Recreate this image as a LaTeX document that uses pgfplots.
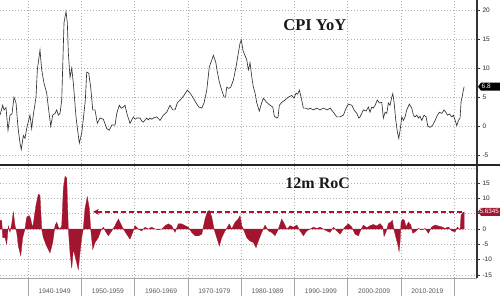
\documentclass[border=0pt]{standalone}
\usepackage{fontspec}
\setmainfont{Liberation Serif}
\setsansfont{Liberation Sans}
\usepackage{pgfplots}
\pgfplotsset{compat=1.18}
\usetikzlibrary{arrows.meta}
\definecolor{crim}{HTML}{A3152F}
\definecolor{gridc}{HTML}{B0B0B0}
\pgfplotsset{
  panel/.style={
    scale only axis, width=477pt, clip=false,
    xmin=1934.74, xmax=2024.3,
    axis line style={draw=none},
    xtick={1940,1950,...,2020}, xticklabels={},
    xtick style={draw=none},
    ytick pos=right, yticklabel pos=right,
    tick align=outside, major tick length=3pt,
    ytick style={black!80, line width=0.5pt},
    yticklabel style={font=\sffamily\fontsize{6.5}{7}\selectfont, text=black!85, xshift=-1pt},
    /pgf/number format/assume math mode=true,
    grid=major,
    major grid style={gridc, line width=0.6pt, dash pattern=on 0.8pt off 2.2pt},
  }
}
\begin{document}
\begin{tikzpicture}
\useasboundingbox (0pt,0pt) rectangle (500pt,-296pt);
% ---------------- top panel ----------------
\begin{axis}[panel, at={(0pt,0pt)}, anchor=north west, height=164pt,
  ymin=-6.5, ymax=21.7, ytick={-5,0,...,20}]
\addplot[black!80, line width=0.65pt] coordinates {
(1934.74,1.9)(1935.25,3.6)(1935.49,2.8)(1935.87,3.2)(1936.24,-0.7)(1936.62,1.9)(1936.99,2.1)(1937.37,5.0)(1937.75,4.0)(1938.12,-0.2)(1938.50,-2.9)(1938.74,-4.0)(1939.12,-1.6)(1939.43,-2.1)(1939.81,-0.1)(1940.37,1.9)(1940.69,-0.4)(1940.94,1.6)(1941.50,5.0)(1941.75,9.7)(1942.25,13.1)(1942.57,9.7)(1943.00,7.4)(1943.51,5.7)(1943.81,3.3)(1944.26,0.0)(1944.64,1.9)(1945.07,2.2)(1945.39,2.8)(1945.69,1.9)(1946.01,2.2)(1946.33,4.5)(1946.76,17.8)(1947.13,19.7)(1947.38,17.8)(1947.57,12.6)(1947.89,8.4)(1948.21,10.0)(1948.51,7.4)(1949.01,1.6)(1949.39,-1.2)(1949.63,-2.9)(1950.08,-1.2)(1950.38,1.2)(1950.76,4.5)(1951.02,9.3)(1951.40,9.1)(1951.77,6.7)(1952.15,2.8)(1952.58,2.8)(1953.01,0.5)(1953.52,1.4)(1954.14,1.2)(1954.78,-0.4)(1955.27,-0.7)(1955.72,0.2)(1956.34,0.2)(1956.66,2.2)(1957.14,3.6)(1957.50,3.1)(1957.90,3.3)(1958.21,3.6)(1958.65,1.9)(1959.15,0.5)(1959.77,1.6)(1960.10,1.2)(1960.41,1.4)(1961.03,1.4)(1961.35,0.9)(1961.65,0.7)(1962.29,1.4)(1962.60,1.1)(1962.91,1.4)(1963.23,1.2)(1963.53,1.4)(1964.17,1.6)(1964.79,1.0)(1965.41,1.9)(1966.04,2.4)(1966.66,3.6)(1967.17,2.8)(1967.60,2.8)(1968.04,4.0)(1968.67,4.6)(1969.29,5.3)(1969.91,6.2)(1970.42,5.7)(1970.93,5.0)(1971.55,4.0)(1972.05,3.3)(1972.62,3.1)(1973.05,4.0)(1973.56,6.2)(1974.04,10.2)(1974.36,11.0)(1974.80,12.2)(1975.25,11.0)(1975.55,9.3)(1975.92,7.6)(1976.37,6.2)(1976.81,5.0)(1977.09,5.0)(1977.31,6.7)(1977.69,6.5)(1978.06,6.7)(1978.55,7.9)(1979.06,10.2)(1979.49,12.6)(1979.81,14.3)(1980.05,14.8)(1980.37,13.0)(1981.07,11.4)(1981.37,9.7)(1981.69,10.9)(1982.01,8.5)(1982.31,6.7)(1982.63,5.7)(1982.95,4.0)(1983.43,2.6)(1983.89,4.1)(1984.19,4.8)(1984.82,4.1)(1985.44,3.6)(1985.95,3.3)(1986.25,1.7)(1986.70,1.4)(1986.95,1.6)(1987.19,3.6)(1987.64,4.1)(1988.26,4.5)(1988.88,5.0)(1989.52,5.3)(1989.95,4.8)(1990.33,5.7)(1990.61,5.5)(1990.95,6.2)(1991.27,5.0)(1991.70,3.1)(1992.20,3.1)(1992.60,2.9)(1992.96,3.1)(1993.58,2.8)(1994.21,3.1)(1994.83,2.8)(1995.45,3.1)(1996.20,2.8)(1996.71,3.1)(1997.33,2.4)(1997.97,1.6)(1998.59,1.6)(1999.21,1.9)(1999.72,3.1)(2000.15,3.8)(2000.79,3.6)(2001.22,2.8)(2001.73,2.2)(2002.10,1.4)(2002.34,1.6)(2002.96,2.8)(2003.47,2.6)(2003.90,3.3)(2004.22,2.4)(2004.54,3.3)(2004.84,3.1)(2005.16,3.6)(2005.59,4.5)(2005.97,4.0)(2006.42,4.1)(2006.72,1.4)(2007.04,2.4)(2007.36,2.2)(2007.66,4.0)(2007.98,3.6)(2008.30,5.0)(2008.49,5.6)(2008.73,4.1)(2009.05,1.0)(2009.35,-1.0)(2009.61,-2.1)(2009.86,-0.7)(2010.18,1.6)(2010.48,1.0)(2010.80,1.6)(2011.11,2.8)(2011.60,3.8)(2012.05,3.1)(2012.35,1.9)(2012.67,1.6)(2012.99,1.9)(2013.29,1.4)(2013.61,1.7)(2013.93,1.0)(2014.36,1.9)(2014.74,1.6)(2015.06,0.0)(2015.49,-0.2)(2016.00,0.2)(2016.43,1.0)(2016.86,1.9)(2017.24,2.4)(2017.69,2.2)(2018.12,2.8)(2018.44,2.4)(2018.74,1.9)(2019.15,2.1)(2019.56,1.6)(2019.87,1.9)(2020.19,1.0)(2020.50,0.1)(2020.81,1.0)(2021.12,1.4)(2021.31,4.2)(2021.56,5.3)(2021.74,6.2)(2021.88,6.8)
};
\node[font=\bfseries\fontsize{16.5}{18}\selectfont, text=black!90] at (rel axis cs:0.66,0.848) {CPI YoY};
\fill[black] ([xshift=1pt]axis cs:2024.3,6.8) -- ([xshift=4pt,yshift=4pt]axis cs:2024.3,6.8) -- ([xshift=23pt,yshift=4pt]axis cs:2024.3,6.8) -- ([xshift=23pt,yshift=-4pt]axis cs:2024.3,6.8) -- ([xshift=4pt,yshift=-4pt]axis cs:2024.3,6.8) -- cycle;
\node[anchor=west, text=white, font=\sffamily\fontsize{6.5}{7}\selectfont, inner sep=0pt] at ([xshift=4.5pt]axis cs:2024.3,6.8) {6.8};
\end{axis}
% ---------------- bottom panel ----------------
\begin{axis}[panel, at={(0pt,-166pt)}, anchor=north west, height=112pt,
  ymin=-16, ymax=20.6, ytick={-15,-10,-5,0,5,10,15},
  yticklabels={-15,-10,-5,0,{},10,15}]
\draw[gridc, line width=0.6pt, dash pattern=on 0.8pt off 2.2pt] (axis cs:1934.74,20) -- (axis cs:2024.3,20);
\addplot[fill=crim, draw=crim, line width=0.3pt] coordinates {
(1934.74,0)(1934.74,2.8)(1935.06,2.8)(1935.25,-2.8)(1935.68,-2.8)(1936.00,-5.0)(1936.30,1.0)(1936.62,-1.1)(1936.94,1.7)(1937.24,5.6)(1937.56,1.1)(1937.88,-1.1)(1938.18,-5.6)(1938.63,-8.7)(1939.00,-2.8)(1939.43,0)(1939.75,3.9)(1940.24,4.4)(1940.51,3.3)(1940.81,0.6)(1940.99,1.7)(1941.50,7.8)(1941.93,11.3)(1942.25,11.1)(1942.57,0)(1942.87,-2.8)(1943.51,-5.6)(1944.13,-7.8)(1944.64,-4.4)(1945.07,1.1)(1945.39,2.2)(1945.69,0.6)(1946.01,0)(1946.33,1.1)(1946.63,13.3)(1946.95,17.2)(1947.27,16.7)(1947.57,0)(1947.89,-7.8)(1948.21,-12.8)(1948.51,-6.7)(1949.01,-10)(1949.44,-13.3)(1949.76,-7.8)(1950.08,-2.8)(1950.38,0)(1950.70,6.7)(1951.13,10.6)(1951.51,6.7)(1951.77,0)(1952.15,-6.7)(1952.58,-4.4)(1953.20,-2.8)(1953.65,-0.6)(1954.14,0.6)(1954.65,-1.1)(1955.08,-2.2)(1955.72,-0.6)(1956.34,1.1)(1956.96,3.3)(1957.27,2.2)(1957.90,0)(1958.53,-1.7)(1959.15,-3.3)(1959.66,-1.1)(1960.09,1.1)(1960.71,0)(1961.35,-0.6)(1961.97,0.6)(1962.59,0)(1963.23,0.6)(1963.85,0)(1964.47,-0.2)(1965.11,0)(1965.73,1.1)(1966.35,1.7)(1966.98,1.1)(1967.60,-1.1)(1968.22,1.7)(1968.86,1.7)(1969.48,1.1)(1970.10,0.6)(1970.74,-1.1)(1971.36,-2.2)(1971.98,-2.2)(1972.62,-1.7)(1973.24,3.3)(1973.67,5.6)(1974.04,6.1)(1974.50,3.9)(1974.93,0)(1975.43,-2.8)(1975.92,-5.6)(1976.37,-2.8)(1976.99,-0.6)(1977.43,0.6)(1977.80,1.7)(1978.25,0)(1978.87,2.2)(1979.49,3.3)(1979.81,4.4)(1980.13,1.1)(1980.43,0)(1981.07,-2.8)(1981.69,-3.9)(1982.31,-4.4)(1982.81,-6.1)(1983.25,-3.9)(1983.89,-1.1)(1984.50,1.3)(1985.12,-0.6)(1985.76,-1.1)(1986.38,-2.2)(1987.00,0)(1987.64,3.3)(1988.13,1.7)(1988.58,0)(1989.20,1.1)(1989.82,0.6)(1990.46,1.3)(1991.08,-0.6)(1991.70,-2.2)(1992.34,-0.6)(1992.96,0)(1993.58,0.6)(1994.21,0.2)(1994.83,0.6)(1995.45,0)(1996.09,-0.6)(1996.71,-1.1)(1997.33,0.6)(1997.97,-0.6)(1998.59,-1.7)(1999.21,0)(1999.72,1.1)(2000.15,1.7)(2000.79,0.6)(2001.41,-1.7)(2002.03,-2.2)(2002.34,-0.9)(2002.96,1.3)(2003.60,0.4)(2004.22,1.1)(2004.84,1.5)(2005.48,1.0)(2006.10,1.8)(2006.61,0.7)(2006.85,-2.4)(2007.23,-0.9)(2007.66,1.8)(2008.11,2.3)(2008.41,2.9)(2008.73,-0.3)(2009.11,-3.0)(2009.42,-5.1)(2009.67,-7.4)(2009.86,-4.0)(2010.04,2.3)(2010.36,3.2)(2010.66,2.9)(2010.98,0.7)(2011.42,2.3)(2011.87,1.3)(2012.24,-1.4)(2012.67,-0.9)(2013.29,0.2)(2013.93,-0.3)(2014.55,0.2)(2015.17,-1.4)(2015.81,0.7)(2016.43,1.3)(2017.05,1.0)(2017.69,0.7)(2018.31,0.2)(2018.93,0.7)(2019.56,-0.6)(2020.19,-0.9)(2020.62,0.7)(2021.12,-0.3)(2021.30,4.5)(2021.60,5.3)(2021.88,5.63)(2021.88,0)
} -- cycle;
\addplot[crim, line width=1.5pt, dash pattern=on 5pt off 3pt, {Stealth[length=6pt,width=6pt]}-] coordinates {(1952.2,5.6345)(2021.88,5.6345)};
\node[font=\bfseries\fontsize{16}{18}\selectfont, text=black!90] at (rel axis cs:0.666,0.848) {12m RoC};
\fill[crim] ([xshift=1pt]axis cs:2024.3,5.6345) -- ([xshift=4pt,yshift=4pt]axis cs:2024.3,5.6345) -- ([xshift=23pt,yshift=4pt]axis cs:2024.3,5.6345) -- ([xshift=23pt,yshift=-4pt]axis cs:2024.3,5.6345) -- ([xshift=4pt,yshift=-4pt]axis cs:2024.3,5.6345) -- cycle;
\node[anchor=west, text=white, font=\sffamily\fontsize{6.3}{7}\selectfont, inner sep=0pt] at ([xshift=2.5pt]axis cs:2024.3,5.6345) {5.6345};
\end{axis}
% decade separators and labels (below the lower panel)
\foreach \x in {28,81.25,134.5,187.75,241,294.25,347.5,400.75,454}{
  \draw[gray!70, line width=0.5pt] (\x pt,-278pt) -- (\x pt,-296pt);
}
\foreach \x/\l in {54.6/1940-1949,107.9/1950-1959,161.1/1960-1969,214.4/1970-1979,267.6/1980-1989,320.9/1990-1999,374.1/2000-2009,427.4/2010-2019}{
  \node[font=\sffamily\fontsize{6.7}{7}\selectfont, text=black!65] at (\x pt,-291.5pt) {\l};
}
\draw[black!80, line width=1.1pt] (477pt,0pt) -- (477pt,-278pt);
\draw[black!85, line width=1.8pt] (0pt,-165pt) -- (500pt,-165pt);
\draw[gray!70, line width=0.5pt] (0pt,-278pt) -- (477pt,-278pt);
\end{tikzpicture}
\end{document}
